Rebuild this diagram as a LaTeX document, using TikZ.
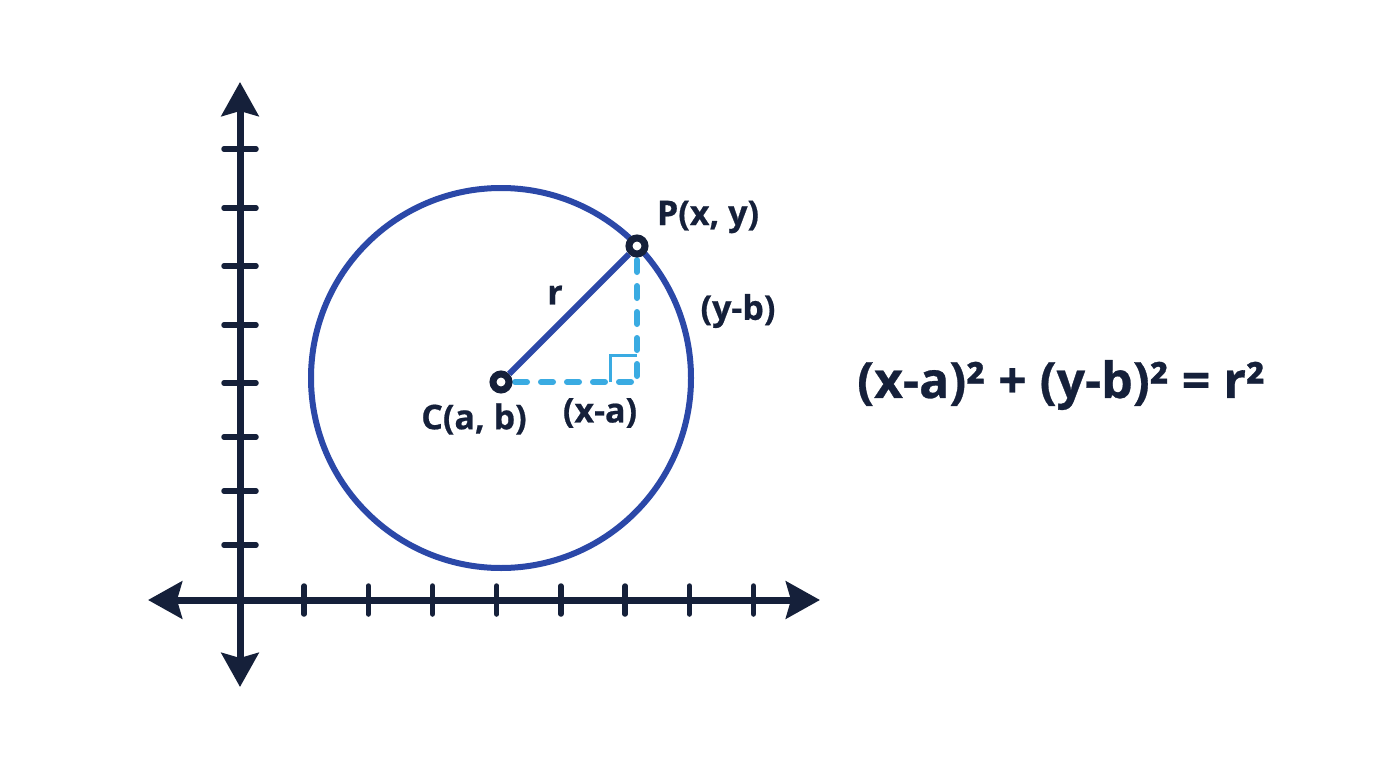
\documentclass[tikz,border=0pt]{standalone}
\usepackage{fontspec}
\setmainfont{Open Sans}[BoldFeatures={FakeBold=0.6}]
\usetikzlibrary{arrows.meta}
\definecolor{navy}{HTML}{15203A}
\definecolor{cblue}{HTML}{2B48A8}
\definecolor{lblue}{HTML}{3AABE2}
\tikzset{
  axis/.style={line width=7pt, draw=navy, {Stealth[length=34pt,width=37pt,inset=5pt]}-{Stealth[length=34pt,width=37pt,inset=5pt]}},
  tick/.style={line width=5.5pt, draw=navy, line cap=round},
  circ/.style={line width=6pt, draw=cblue},
  radline/.style={line width=6pt, draw=cblue},
  dashline/.style={line width=6pt, draw=lblue, line cap=round, dash pattern=on 12pt off 14pt},
  sq/.style={line width=3pt, draw=lblue},
  pt/.style={circle, draw=navy, line width=7pt, fill=white, minimum size=16pt, inner sep=0pt},
  lbl/.style={text=navy, font=\fontsize{34}{40}\selectfont\bfseries, inner sep=0pt},
  eq/.style={text=navy, font=\fontsize{50}{56}\selectfont\bfseries, inner sep=0pt}
}
\begin{document}
\begin{tikzpicture}[x=1pt,y=-1pt]
\useasboundingbox (0,0) rectangle (1376,768);
\fill[white] (0,0) rectangle (1376,768);
% axes
\coordinate (ytop) at (240,82);
\coordinate (ybot) at (240,687);
\coordinate (xl) at (148,600);
\coordinate (xr) at (820,600);
\draw[axis] (ybot) -- (ytop);
\draw[axis] (xl) -- (xr);
\foreach \y in {149,208,266,325,383,437,491,545}
  \draw[tick] (224,\y) -- (256,\y);
\foreach \x in {304.1,368.3,432.5,496.7,560.9,625.1,689.3,753.5}
  \draw[tick] (\x,586) -- (\x,614);
% circle
\draw[circ] (501,378) circle[radius=190pt];
% triangle
\coordinate (c) at (501,382);
\coordinate (p) at (637,246);
\coordinate (q) at (637,382);
\draw[sq] ([xshift=-27pt]q) -- ([xshift=-27pt,yshift=27pt]q) -- ([yshift=27pt]q);
\draw[dashline] ([xshift=14pt]c) -- ([xshift=-4pt]q);
\draw[dashline] ([yshift=-14pt]p) -- ([yshift=4pt]q);
\node[pt] (C) at (c) {};
\node[pt] (P) at (p) {};
\draw[radline] (C) -- (P);
% labels
\node[lbl] (lC) at (474,419) {C(a, b)};
\node[lbl] (lxa) at (600,413) {(x-a)};
\node[lbl] (lr) at (555,295) {r};
\node[lbl] (lP) at (708,217) {P(x, y)};
\node[lbl] (lyb) at (738,311) {(y-b)};
\node[eq] (eqn) at (1061,385) {(x-a)² + (y-b)² = r²};
\end{tikzpicture}
\end{document}
